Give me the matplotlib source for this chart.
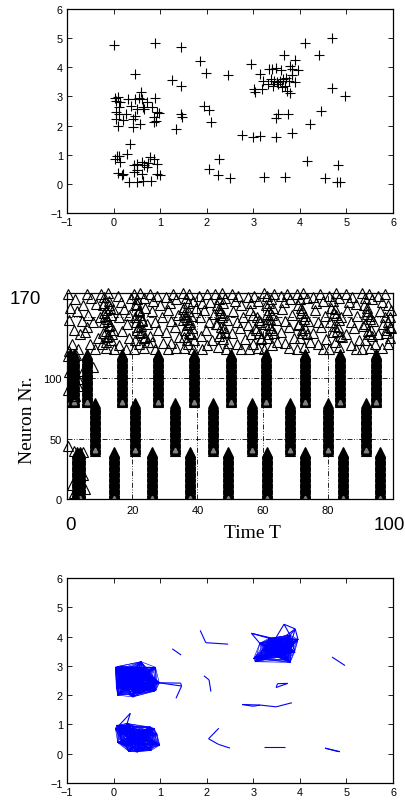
import numpy as np
import matplotlib
matplotlib.use("Agg")
import matplotlib.pyplot as plt
from matplotlib.collections import LineCollection

plt.rcParams['font.family'] = ['Liberation Sans', 'DejaVu Sans']

# ---------------- data: 2-D point positions ----------------
pts_x = [0.00, 0.89, 1.44, 0.45, 1.26, 1.45, 1.86, 1.98, 2.46, 2.96, 3.66, 3.90,
         4.11, 4.69, 4.42, 4.69, 4.97, 4.45, 4.22, 3.83, 3.74, 3.49, 3.52, 3.49,
         3.15, 2.99, 2.76, 4.15, 4.81, 4.54, 4.80, 4.86, 3.68, 3.23, 2.50, 2.25,
         2.04, 2.26, 1.94, 2.05, 2.09, 1.34, 1.44, 1.46, 0.36,
         # cluster A (upper left)
         0.04, 0.09, 0.06, 0.14, 0.06, 0.11, 0.06, 0.09, 0.12, 0.21, 0.32, 0.27,
         0.37, 0.41, 0.41, 0.50, 0.47, 0.54, 0.59, 0.61, 0.64, 0.66, 0.71, 0.82,
         0.86, 0.90, 0.93, 0.98, 0.91, 0.87, 0.46, 0.56,
         # cluster B (lower left)
         0.07, 0.12, 0.04, 0.13, 0.29, 0.43, 0.50, 0.61, 0.66, 0.79, 0.87, 0.93,
         0.75, 0.71, 0.51, 0.43, 0.09, 0.21, 0.18, 0.33, 0.50, 0.64, 0.80, 0.93,
         0.99, 0.61,
         # cluster C (upper right)
         3.14, 3.34, 3.41, 3.49, 3.59, 3.79, 3.84, 3.96, 3.01, 3.04, 3.19, 3.21,
         3.32, 3.44, 3.50, 3.54, 3.61, 3.64, 3.71, 3.77, 3.84, 3.89, 3.73, 3.79,
         3.43, 3.57, 3.68, 3.37]
pts_y = [4.77, 4.83, 4.70, 3.77, 3.58, 3.37, 4.21, 3.79, 3.74, 4.11, 4.42, 4.26,
         4.82, 4.99, 4.41, 3.30, 3.01, 2.51, 2.06, 1.74, 2.40, 2.26, 2.39, 1.60,
         1.66, 1.62, 1.68, 0.78, 0.66, 0.19, 0.08, 0.07, 0.23, 0.23, 0.19, 0.32,
         0.51, 0.87, 2.66, 2.52, 2.12, 1.89, 2.41, 2.31, 1.38,
         2.95, 2.98, 2.85, 2.80, 2.45, 2.40, 2.23, 2.00, 2.63, 2.20, 2.91, 2.40,
         2.68, 2.23, 1.94, 2.57, 2.91, 2.95, 3.14, 2.91, 2.63, 2.57, 2.80, 2.63,
         2.28, 2.95, 2.45, 2.42, 2.17, 2.13, 2.34, 2.05,
         0.97, 0.97, 0.86, 0.74, 1.03, 0.65, 0.68, 0.76, 0.65, 0.91, 0.86, 0.68,
         0.72, 0.57, 0.49, 0.40, 0.38, 0.34, 0.31, 0.08, 0.06, 0.11, 0.11, 0.34,
         0.29, 0.34,
         3.77, 3.94, 3.94, 3.97, 3.90, 4.05, 3.94, 3.90, 3.25, 3.14, 3.25, 3.54,
         3.42, 3.54, 3.48, 3.42, 3.31, 3.60, 3.65, 3.54, 3.73, 3.48, 3.20, 3.12,
         3.37, 3.54, 3.37, 3.60]
# cluster membership (0 = none, 1 = A, 2 = B, 3 = C)
pts_cluster = [0] * 45 + [1] * 32 + [2] * 26 + [3] * 28
link_radius = 0.5

# ---------------- data: spike raster ----------------
group1_times = [3.0, 4.0, 14.3, 26.0, 37.8, 49.5, 61.2, 73.0, 84.7, 95.9]
group2_times = [8.5, 20.9, 33.0, 44.7, 56.6, 68.4, 80.1, 91.6]
group3_times = [0.8, 2.0, 6.1, 16.8, 27.9, 39.1, 50.2, 61.0, 73.0, 83.7, 94.9]
group1_neurons = (0, 40)
group2_neurons = (40, 80)
group3_neurons = (80, 121)

extra_t = [0.4, 1.5, 5.5, 2.2, 4.8, 2.0, 5.0, 0.3, 1.8, 0.5, 2.2, 1.2, 0.2, 2.5,
           1.5, 3.4, 8.0, 5.0, 3.5, 0.6, 2.8]
extra_n = [44, 12, 8, 40, 39, 5, 20, 118, 112, 105, 100, 95, 90, 85, 108, 99,
           109, 106, 93, 122, 119]

noise_t = [0.3, 2.5, 1.0, 3.0, 0.5, 2.0, 4.0, 1.5, 3.5, 4.8, 4.5,
           6, 7.5, 9, 6.5, 8, 5.5, 9.5, 7, 8.5, 6,
           10.5, 11.5, 12.5, 13, 11, 12, 13.5, 10, 11.5, 12.8, 14, 11, 12.2, 13.5, 10.8, 12, 14.5, 13, 14.2, 11.8, 12.6, 13.8,
           15.5, 16.5, 17.5, 16, 18.5, 17, 19, 16, 18, 19.5, 19,
           20.5, 21.5, 22.5, 23.5, 21, 22, 24, 20.8, 23, 24.5, 21.5, 22.5, 23.8, 21, 22.2, 23.5, 20.5, 24.8, 22.8, 21.2,
           25.5, 26.5, 27.5, 28.5, 26, 29, 27, 28, 25.5, 29.5, 27, 26,
           30.5, 31.5, 32.5, 33.5, 31, 34, 32, 33, 30.5, 34.5, 32, 33.5, 31,
           35.5, 36.5, 37.5, 38.5, 36, 37, 38, 35.5, 36.8, 38.2, 37.5, 36, 39, 37, 35.8, 38.5, 39.5, 36.5, 37.8,
           40.5, 41.5, 43, 44, 42, 40.8, 43.5, 42.5, 41, 44.5, 43, 41.5,
           45.5, 46.5, 47.5, 48.5, 46, 47, 48, 49, 45.8, 47.2, 48.5, 46.5, 47.8, 49.5, 46.2, 48.8, 45.2,
           50.5, 51.5, 52.5, 53.5, 51, 54, 52, 53, 50.5, 54.5, 52, 53.5,
           55.5, 56.5, 57.5, 58.5, 56, 57, 59, 55.5, 58, 56.5, 59.5, 57, 58.5, 55.8,
           60.5, 61.5, 62.5, 63.5, 61, 62, 63, 64, 60.8, 62.2, 63.5, 61.5, 64.5, 62.8, 60.5, 61.8,
           65.5, 66.5, 67.5, 68.5, 66, 69, 67, 68, 65.5, 69.5, 66.8, 68.2,
           70.5, 71.5, 72.5, 73.5, 71, 72, 73, 74, 70.8, 72.2, 73.5, 71.5, 74.5, 72.8, 70.5,
           75.5, 76.5, 77.5, 78.5, 76, 79, 77, 78, 75.5, 79.5, 77, 78.5,
           80.5, 81.5, 82.5, 83.5, 81, 82, 84, 80.8, 83, 81.5, 84.5, 82.2, 83.5, 80.5,
           85.5, 86.5, 87.5, 88.5, 86, 89, 87, 88, 85.5, 89.5, 87, 88.5,
           90.5, 91.5, 92.5, 93.5, 91, 92, 93, 94, 90.8, 92.2, 93.5, 91.5, 94.5, 92.8, 90.5,
           95.5, 96.5, 97.5, 98.5, 96, 99, 97, 98, 95.5, 99.5, 99, 98.5, 96.5, 99.5,
           # denser clumps
           11.2, 12.4, 13.1, 11.9, 12.7, 13.3, 11.5, 12.1,
           22.3, 23.1, 21.8, 22.9, 23.6, 22.0, 21.4,
           35.9, 36.7, 37.3, 36.2, 37.9, 36.9, 35.6, 37.1,
           46.8, 47.6, 46.1, 48.2, 47.3, 46.5, 48.0,
           58.2, 59.1, 57.6, 58.8, 59.5,
           61.2, 62.4, 61.9, 62.9, 61.6, 63.2, 62.1,
           71.9, 72.7, 71.3, 73.1, 72.2, 71.7,
           82.6, 83.3, 81.9, 82.9, 83.8, 82.3,
           92.1, 92.8, 91.4, 93.2, 92.5, 91.9,
           97.6, 98.4, 99.2, 97.9]
noise_n = [169, 165, 158, 155, 148, 140, 136, 128, 124, 160, 147,
           169, 166, 161, 152, 146, 138, 133, 128, 124, 142,
           169, 167, 170, 164, 160, 156, 152, 150, 146, 143, 140, 137, 134, 131, 128, 125, 124, 160, 157, 151, 147, 136,
           168, 163, 157, 150, 145, 139, 133, 127, 124, 166, 152,
           169, 165, 170, 166, 160, 155, 158, 150, 148, 145, 140, 137, 134, 131, 128, 125, 124, 130, 143, 146,
           169, 164, 168, 160, 155, 150, 146, 140, 135, 129, 124, 130,
           167, 162, 169, 165, 156, 152, 147, 142, 138, 134, 129, 125, 124,
           170, 166, 169, 164, 159, 155, 151, 148, 144, 141, 137, 134, 131, 128, 125, 124, 158, 150, 146,
           168, 162, 169, 163, 156, 150, 146, 140, 135, 131, 127, 124,
           169, 165, 170, 166, 160, 156, 152, 148, 145, 142, 138, 135, 132, 129, 126, 124, 153,
           169, 164, 168, 160, 155, 150, 146, 141, 137, 132, 128, 124,
           167, 162, 168, 164, 156, 152, 148, 144, 140, 136, 132, 128, 125, 124,
           170, 168, 165, 169, 160, 156, 152, 148, 145, 141, 137, 133, 130, 127, 124, 149,
           168, 163, 169, 165, 157, 152, 147, 142, 138, 133, 129, 125,
           169, 165, 170, 166, 160, 156, 151, 147, 144, 140, 136, 133, 130, 126, 124,
           167, 162, 169, 164, 156, 151, 146, 142, 137, 132, 128, 124,
           168, 164, 170, 166, 158, 154, 150, 146, 142, 138, 134, 130, 126, 124,
           169, 163, 167, 161, 156, 151, 146, 141, 136, 131, 127, 124,
           170, 166, 169, 165, 160, 155, 151, 147, 143, 139, 135, 131, 128, 125, 124,
           168, 163, 169, 160, 155, 150, 145, 140, 136, 156, 133, 128, 125, 141,
           # denser clumps
           154, 149, 144, 139, 135, 158, 162, 130,
           152, 147, 142, 138, 133, 156, 161,
           153, 149, 145, 140, 136, 131, 157, 162,
           154, 150, 145, 141, 137, 158, 162,
           150, 146, 141, 137, 133,
           153, 149, 144, 140, 136, 158, 162,
           154, 149, 145, 141, 137, 158,
           152, 148, 143, 139, 135, 157,
           153, 149, 145, 140, 136, 158,
           150, 146, 142, 137]

# ---------------- figure ----------------
fig = plt.figure(figsize=(4.06, 8.04), dpi=100)
ax1 = fig.add_axes([0.165, 0.7338, 0.803, 0.2537])
ax2 = fig.add_axes([0.165, 0.378, 0.803, 0.256])
ax3 = fig.add_axes([0.165, 0.0249, 0.803, 0.255])

def matlab_axes(ax, fs=7.8):
    ax.tick_params(direction='in', top=True, right=True, length=3.5, width=0.6,
                   labelsize=fs, pad=3)
    for s in ax.spines.values():
        s.set_linewidth(0.9)

px = np.array(pts_x)
py = np.array(pts_y)
pc = np.array(pts_cluster)

# top scatter
ax1.plot(px, py, '+', color='black', ms=6.5, mew=0.8, linestyle='none')
for ax in (ax1, ax3):
    ax.set_xlim(-1, 6)
    ax.set_ylim(-1, 6)
    ax.set_xticks(range(-1, 7))
    ax.set_yticks(range(-1, 7))
    ax.set_xticklabels(['\u22121'] + [str(i) for i in range(0, 7)])
    ax.set_yticklabels(['\u22121'] + [str(i) for i in range(0, 7)])
    matlab_axes(ax)

# bottom: links within clusters and between neighbouring points
segs_in, segs_out = [], []
n = len(px)
for i in range(n):
    for j in range(i + 1, n):
        same = pc[i] > 0 and pc[i] == pc[j]
        seg = [(px[i], py[i]), (px[j], py[j])]
        if same:
            segs_in.append(seg)
        elif np.hypot(px[i] - px[j], py[i] - py[j]) < link_radius:
            segs_out.append(seg)
ax3.add_collection(LineCollection(segs_in, colors='#0000ff', linewidths=0.45))
ax3.add_collection(LineCollection(segs_out, colors='#0000ff', linewidths=0.8))

# middle raster
tri_hollow = dict(marker='^', ms=7, mfc='none', mec='black', mew=0.8, linestyle='none')
tri_solid = dict(marker='^', ms=7, mfc='black', mec='black', mew=0.8, linestyle='none')
for times, (lo, hi) in ((group1_times, group1_neurons),
                        (group2_times, group2_neurons),
                        (group3_times, group3_neurons)):
    nn = np.arange(lo, hi)
    for t in times:
        ax2.plot(np.full(len(nn), t), nn, **tri_solid)
        ax2.plot([t], [lo + 0.5], marker='^', ms=3.2, color='#808080',
                 linestyle='none')
ax2.plot(extra_t, extra_n, clip_on=False, **tri_hollow)
ax2.plot(noise_t, noise_n, clip_on=False, **tri_hollow)

ax2.set_xlim(0, 100)
ax2.set_ylim(0, 170)
ax2.set_xticks([0, 20, 40, 60, 80, 100])
ax2.set_xticklabels(['', '20', '40', '60', '80', ''])
ax2.set_yticks([0, 50, 100, 150])
ax2.set_yticklabels(['0', '50', '100', ''])
matlab_axes(ax2, fs=8)
ax2.tick_params(length=0, pad=4)
ax2.grid(True, color='black', linewidth=0.6, linestyle=(0, (6, 2, 1, 2, 1, 2)))
ax2.set_axisbelow(True)

serif = ['Liberation Serif', 'DejaVu Serif']
fig.text(28 / 406, 1 - 420 / 804, 'Neuron Nr.', rotation=90, family=serif,
         fontsize=14, ha='center', va='center')
fig.text(252 / 406, 1 - 533 / 804, 'Time T', family=serif, fontsize=14,
         ha='center', va='center')
fig.text(25 / 406, 1 - 300 / 804, '170', fontsize=13.5, ha='center', va='center')
fig.text(70 / 406, 1 - 525 / 804, '0', fontsize=13.5, ha='center', va='center')
fig.text(389 / 406, 1 - 525 / 804, '100', fontsize=13.5, ha='center', va='center')

fig.savefig('out.png', dpi=100)
